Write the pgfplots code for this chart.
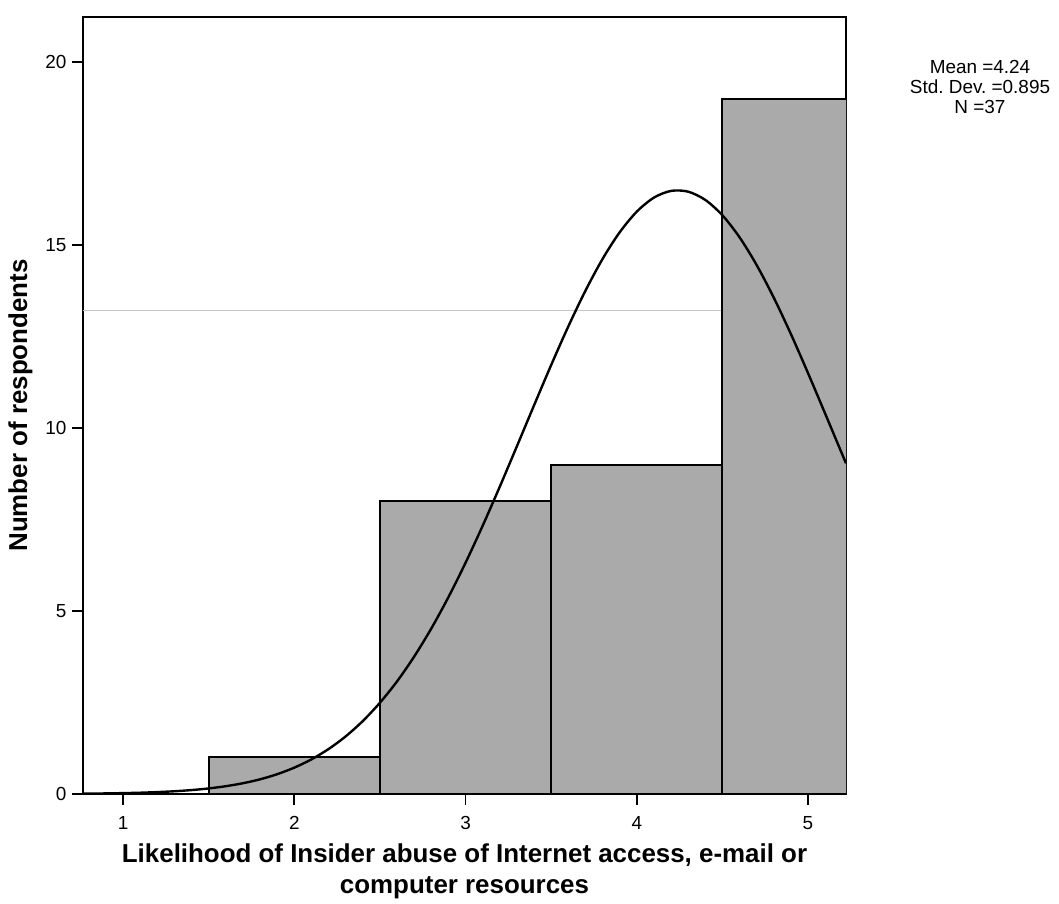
\documentclass[border=0pt]{standalone}
\usepackage{fontspec}
\setmainfont{Liberation Sans}
\usepackage{pgfplots}
\pgfplotsset{compat=1.18}
\definecolor{barfill}{RGB}{170,170,170}
\frenchspacing

% Histogram bins (left edge, count); last row closes the final interval
\pgfplotstableread{
edge count
1.5  1
2.5  8
3.5  9
4.5  19
5.5  19
}\bins

\begin{document}
\begin{tikzpicture}[x=1bp,y=1bp]
\path[use as bounding box] (0,0) rectangle (1059,904);
\begin{axis}[
  at={(83bp,110bp)}, anchor=south west,
  width=763bp, height=777bp, scale only axis,
  xmin=0.766, xmax=5.222, ymin=0, ymax=21.23,
  xtick={1,2,3,4,5}, ytick={0,5,10,15,20},
  tick align=outside, tick pos=left,
  major tick length=11bp,
  tick style={line width=1.8pt, black},
  axis line style={line width=2.6pt},
  /pgf/number format/assume math mode=true,
  tick label style={font=\fontsize{19}{22}\selectfont},
  xticklabel style={yshift=-8bp},
  yticklabel style={xshift=-2bp},
  xlabel={Likelihood of Insider abuse of Internet access, e-mail or\\computer resources},
  ylabel={Number of respondents},
  label style={font=\bfseries\fontsize{26}{31}\selectfont},
  xlabel style={align=center, yshift=-7bp},
  ylabel style={yshift=6bp},
  clip=true,
]
% faint horizontal line across the plotting area
\addplot[draw=gray!45, line width=0.8pt, forget plot] coordinates {(0.766,13.2) (5.222,13.2)};
\addplot[ybar interval, fill=barfill, draw=black, line width=2pt] table[x=edge, y=count] {\bins};
% fitted normal curve: mean 4.24, sd 0.895, N 37
\addplot[smooth, line width=2.4pt, black] coordinates {
(0.77,0.009) (0.9,0.016) (1.0,0.024) (1.1,0.035) (1.2,0.052) (1.3,0.075)
(1.4,0.107) (1.5,0.152) (1.6,0.213) (1.7,0.294) (1.8,0.401) (1.9,0.541)
(2.0,0.720) (2.1,0.946) (2.2,1.228) (2.3,1.574) (2.4,1.993) (2.5,2.493)
(2.6,3.077) (2.7,3.754) (2.8,4.521) (2.9,5.378) (3.0,6.317) (3.1,7.329)
(3.2,8.397) (3.3,9.502) (3.4,10.618) (3.5,11.719) (3.6,12.773) (3.7,13.749)
(3.8,14.617) (3.9,15.346) (4.0,15.911) (4.1,16.294) (4.2,16.478) (4.3,16.457)
(4.4,16.232) (4.5,15.813) (4.6,15.212) (4.7,14.453) (4.8,13.562) (4.9,12.568)
(5.0,11.501) (5.1,10.395) (5.2,9.279) (5.222,9.035)
};
\end{axis}
\node[align=center, font=\fontsize{19}{20}\selectfont, anchor=north] at (980,847)
  {Mean =4.24\\Std. Dev. =0.895\\N =37};
\end{tikzpicture}
\end{document}
